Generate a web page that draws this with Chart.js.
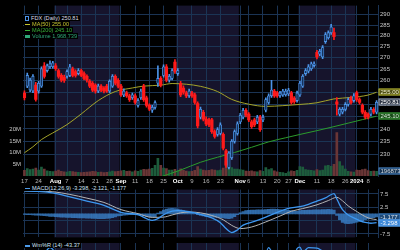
<!DOCTYPE html>
<html>
<head>
<meta charset="utf-8">
<title>FDX daily</title>
<script src="https://cdn.jsdelivr.net/npm/chart.js@4.4.1/dist/chart.umd.min.js"></script>
<style>
  html, body { margin: 0; padding: 0; background: #000; }
  #wrap { position: relative; width: 400px; height: 250px; overflow: hidden; background: #000; }
  #wrap canvas { position: absolute; left: 0; }
  .leg { position: absolute; left: 24px; height: 6px; line-height: 6px; padding: 0 1px; background: #000;
         font: 5.6px "Liberation Sans", Arial, sans-serif; white-space: nowrap; }
  .ico { display: inline-block; vertical-align: middle; margin-right: 2px; }
</style>
</head>
<body>
<div id="wrap">
  <canvas id="price" width="400" height="185" style="top:0"></canvas>
  <canvas id="macd" width="400" height="59" style="top:184px"></canvas>
  <canvas id="wr" width="400" height="57" style="top:243px"></canvas>
  <div class="leg" style="top:15px;color:#d9dce6"><span class="ico" style="width:2px;height:3px;border:1px solid #4d94e8"></span><span id="lg1"></span></div>
  <div class="leg" style="top:21px;color:#c4c430"><span class="ico" style="width:5px;height:1px;background:#c4c430"></span><span id="lg2"></span></div>
  <div class="leg" style="top:27px;color:#38b038"><span class="ico" style="width:5px;height:1px;background:#38b038"></span><span id="lg3"></span></div>
  <div class="leg" style="top:33px;color:#2fa878"><span class="ico" style="width:5px;height:3px;background:#2fa878"></span><span id="lg4"></span></div>
  <div class="leg" style="top:185px;color:#d0e4f8"><span class="ico" style="width:5px;height:1px;background:#4d9ae8"></span><span id="lg5"></span></div>
  <div class="leg" style="top:242px;color:#d0e4f8"><span class="ico" style="width:5px;height:2px;background:#4d9ae8"></span><span id="lg6"></span></div>
</div>
<script>
// trading days shown on the chart
const dates = [
  'Jul 17','Jul 18','Jul 19','Jul 20','Jul 21','Jul 24','Jul 25','Jul 26','Jul 27','Jul 28','Jul 31',
  'Aug 1','Aug 2','Aug 3','Aug 4','Aug 7','Aug 8','Aug 9','Aug 10','Aug 11','Aug 14','Aug 15','Aug 16','Aug 17','Aug 18','Aug 21','Aug 22','Aug 23','Aug 24','Aug 25','Aug 28','Aug 29','Aug 30','Aug 31',
  'Sep 1','Sep 5','Sep 6','Sep 7','Sep 8','Sep 11','Sep 12','Sep 13','Sep 14','Sep 15','Sep 18','Sep 19','Sep 20','Sep 21','Sep 22','Sep 25','Sep 26','Sep 27','Sep 28','Sep 29',
  'Oct 2','Oct 3','Oct 4','Oct 5','Oct 6','Oct 9','Oct 10','Oct 11','Oct 12','Oct 13','Oct 16','Oct 17','Oct 18','Oct 19','Oct 20','Oct 23','Oct 24','Oct 25','Oct 26','Oct 27','Oct 30','Oct 31',
  'Nov 1','Nov 2','Nov 3','Nov 6','Nov 7','Nov 8','Nov 9','Nov 10','Nov 13','Nov 14','Nov 15','Nov 16','Nov 17','Nov 20','Nov 21','Nov 22','Nov 24','Nov 27','Nov 28','Nov 29','Nov 30',
  'Dec 1','Dec 4','Dec 5','Dec 6','Dec 7','Dec 8','Dec 11','Dec 12','Dec 13','Dec 14','Dec 15','Dec 18','Dec 19','Dec 20','Dec 21','Dec 22','Dec 26','Dec 27','Dec 28','Dec 29',
  'Jan 2','Jan 3','Jan 4','Jan 5','Jan 8','Jan 9','Jan 10','Jan 11'
];

const opens = [
  254.5,257.6,256.0,255.5,258.0,255.5,257.6,266.4,264.3,266.0,
  266.0,266.4,264.3,262.2,261.5,261.8,262.2,265.1,263.9,263.0,
  264.3,263.0,261.8,259.7,258.8,258.0,255.5,257.6,256.8,257.6,
  255.5,257.6,261.8,260.1,257.6,253.9,254.7,253.5,252.7,253.5,
  249.5,252.7,257.6,252.7,249.5,247.5,248.7,258.8,260.9,262.2,
  266.0,260.1,260.9,268.1,263.0,258.8,256.8,254.7,253.5,254.7,
  253.9,250.3,244.7,246.7,243.9,243.6,243.6,238.9,237.8,238.2,
  237.8,231.4,225.2,228.8,235.1,238.2,242.8,244.7,247.5,245.9,
  242.8,243.6,242.8,244.7,243.6,247.5,250.7,253.5,255.5,254.7,
  253.5,253.9,254.0,254.3,254.7,252.5,251.5,253.9,257.6,263.0,
  264.0,265.1,266.5,272.4,271.6,270.3,277.3,279.1,281.4,281.4,
  251.0,245.9,246.7,247.9,249.9,252.7,251.5,254.7,251.9,249.5,
  246.7,245.9,245.9,247.9,246.7
];
const highs = [
  255.6,263.2,261.0,262.6,259.2,259.6,266.0,267.8,267.2,268.6,
  268.4,267.4,265.0,263.0,262.3,264.6,267.0,265.8,264.6,265.2,
  265.0,263.8,262.5,260.4,259.5,258.6,258.5,258.3,257.4,258.4,
  260.3,262.6,262.4,260.8,258.4,256.4,255.5,254.2,254.6,254.3,
  252.3,256.3,258.4,253.4,250.2,249.5,251.4,266.4,261.7,266.8,
  266.9,262.7,265.1,269.2,265.2,259.6,257.7,255.5,256.3,255.4,
  254.6,251.0,248.8,247.5,244.8,244.3,244.2,239.6,240.5,242.4,
  238.4,232.0,231.2,235.8,239.6,242.8,246.3,248.3,248.2,246.6,
  243.5,244.3,245.4,245.4,245.5,252.7,254.3,260.1,256.2,255.4,
  255.4,256.2,256.3,256.7,255.4,253.2,255.5,259.6,262.6,265.2,
  266.9,268.1,268.2,273.3,273.8,275.5,281.4,282.3,285.3,283.5,
  252.8,248.6,248.7,250.7,252.7,253.4,254.4,255.5,252.6,250.2,
  247.4,246.5,248.7,248.6,251.5
];
const lows = [
  251.8,256.9,255.2,254.8,251.3,254.6,257.0,261.0,263.6,265.2,
  265.4,264.4,261.0,259.4,259.2,261.0,261.6,261.5,261.4,262.4,
  261.6,260.2,259.3,256.9,255.2,254.6,254.8,255.2,254.7,254.9,
  254.8,257.0,258.1,256.8,253.2,253.1,252.8,251.2,252.0,250.0,
  248.8,252.0,251.2,248.8,247.3,246.6,248.0,257.5,257.2,261.4,
  259.4,259.3,260.2,263.1,262.2,253.1,254.2,252.7,252.8,252.8,
  250.0,240.4,244.0,243.2,241.3,240.9,238.2,236.3,237.1,237.6,
  231.8,225.2,224.6,228.2,234.4,237.5,242.1,244.0,244.8,242.9,
  240.2,240.9,242.1,239.0,242.9,246.8,250.0,252.8,252.8,252.8,
  252.8,253.2,253.3,253.6,250.0,250.3,250.8,253.2,257.0,262.2,
  263.3,264.4,265.8,269.5,270.8,269.6,276.5,278.4,280.6,278.2,
  245.5,245.2,246.0,247.2,249.2,250.0,250.8,251.2,250.0,246.0,
  244.0,244.0,245.2,246.0,246.0
];
const closes = [
  252.7,262.2,260.1,261.8,252.0,258.8,265.1,261.8,266.4,267.3,
  267.7,265.1,261.8,260.1,260.0,263.9,266.0,262.2,262.2,264.3,
  262.2,260.9,260.1,257.6,255.9,255.5,257.6,255.9,255.5,255.5,
  259.7,261.8,258.8,257.6,253.9,255.5,253.5,251.9,253.9,250.7,
  251.5,255.5,251.9,249.5,248.0,248.7,250.7,260.9,258.0,266.0,
  260.1,261.8,264.3,263.9,264.3,253.9,255.0,253.5,255.5,253.5,
  250.7,241.2,247.9,243.9,242.0,241.6,238.9,237.0,239.7,241.6,
  232.5,226.0,230.6,235.1,238.9,242.0,245.5,247.5,245.5,243.6,
  240.9,241.6,244.7,239.7,244.7,251.9,253.5,255.9,253.5,253.5,
  254.7,255.5,255.5,255.9,250.7,251.0,254.7,258.8,261.8,264.3,
  266.0,267.3,267.3,270.3,272.9,274.6,280.5,281.4,284.1,279.6,
  250.0,247.9,247.9,249.9,251.9,250.7,253.5,251.9,250.7,246.7,
  244.7,244.7,247.9,246.7,250.81
];
// volume, millions of shares
const volumes = [
  2.4,3.2,2.8,3.0,3.4,2.6,3.8,3.0,2.2,2.0,1.9,
  2.1,2.5,2.0,1.8,1.7,2.0,1.9,1.7,1.6,1.5,
  1.6,1.7,1.8,2.0,1.9,1.6,1.7,1.5,1.6,1.8,2.1,1.9,2.0,
  2.2,2.4,2.0,2.1,1.8,2.2,2.0,2.6,2.9,2.8,3.0,3.3,4.6,
  7.6,4.6,3.4,3.2,2.6,2.5,2.9,2.2,
  3.1,2.4,2.1,1.9,2.0,2.4,4.0,3.0,2.6,2.3,2.4,2.8,2.6,2.3,2.5,3.4,6.4,4.4,3.6,3.0,3.0,
  2.8,2.5,2.1,2.0,2.2,1.9,1.8,2.3,2.0,3.6,2.8,3.2,2.2,1.8,1.6,1.5,1.1,1.8,2.2,2.0,2.4,
  4.0,3.8,2.8,2.6,2.4,2.2,2.8,2.3,2.6,4.4,4.6,4.2,5.0,
  18.7,6.2,4.4,3.0,2.0,1.8,1.7,2.6,2.4,2.8,3.0,2.3,2.0,2.1,1.968739
];

// moving averages, read at a few days
const ma50Idx = [0,3,6,10,15,20,26,32,38,42,48,52,57,62,68,73,79,85,91,97,103,109,115,121,124];
const ma50 = [230.7,233.0,235.8,238.4,241.7,246.0,251.5,255.3,256.8,257.6,258.0,258.7,258.4,257.5,255.3,252.0,250.0,249.1,249.4,249.9,250.6,252.2,252.8,253.8,255.0];
const ma200Idx = [48,55,62,68,74,80,86,92,97,103,109,114,119,124];
const ma200 = [221.7,224.2,227.1,229.0,230.8,232.8,234.9,236.5,237.8,239.3,240.9,242.3,243.7,245.1];

// MACD(12,26,9)
const macdIdx = [0,5,10,16,22,28,34,40,45,47,49,52,54,58,62,66,69,71,73,75,77,81,85,89,93,97,100,103,106,109,110,111,112,114,116,118,120,122,124];
const macd = [8.6,8.4,7.9,6.4,4.8,3.2,0.6,-0.3,-2.4,-1.8,-0.3,1.0,1.2,0.8,-0.2,-1.5,-3.3,-5.5,-7.0,-6.0,-4.2,-2.8,-1.2,0.6,2.1,2.7,3.6,4.8,6.0,7.6,5.6,3.4,1.6,-0.4,-1.5,-2.5,-3.2,-3.5,-3.298];
const signalIdx = [0,5,10,16,22,28,34,40,45,49,52,55,58,62,66,70,73,76,80,85,90,94,98,103,107,110,112,114,117,120,122,124];
const signal = [8.6,8.5,8.3,7.3,5.9,4.3,1.6,0.1,-1.3,-1.2,-0.4,0.4,0.7,0.4,-0.6,-2.2,-4.3,-5.5,-4.9,-3.0,-0.8,1.0,2.0,3.4,5.0,6.2,4.9,3.0,0.9,-1.0,-1.8,-2.121];
const hist = [
  -0.2,-0.3,-0.3,-0.4,-0.5,-0.5,-0.6,-0.7,-0.8,-0.9,
  -0.9,-1.0,-1.1,-1.2,-1.2,-1.3,-1.3,-1.4,-1.4,-1.5,
  -1.5,-1.5,-1.6,-1.6,-1.7,-1.7,-1.8,-1.8,-1.8,-1.7,
  -1.6,-1.4,-1.1,-0.8,-0.7,-0.5,-0.4,-0.3,-0.3,-0.3,
  -0.4,-0.5,-0.7,-0.9,-1.1,-1.2,-1.0,0.3,0.9,1.4,
  1.8,2.0,2.1,2.0,1.8,1.5,1.2,0.9,0.6,0.3,
  0.0,-0.3,-0.6,-0.8,-0.9,-1.0,-1.1,-1.2,-1.3,-1.4,
  -1.5,-1.7,-1.8,-1.6,-1.0,-0.3,0.4,0.9,1.2,1.3,
  1.4,1.4,1.5,1.5,1.5,1.6,1.7,1.8,1.8,1.7,
  1.6,1.5,1.4,1.3,1.2,1.1,1.1,1.2,1.3,1.3,
  1.4,1.4,1.5,1.5,1.5,1.6,1.6,1.7,1.6,1.4,
  -0.6,-2.2,-3.2,-3.6,-3.7,-3.6,-3.4,-3.1,-2.8,-2.5,
  -2.2,-1.9,-1.6,-1.4,-1.177
];

// Williams %R(14), only the top of the panel is in the picture
const wrIdx = [0,3,6,9,11,14,16,20,25,29,31,33,38,43,46,47,49,53,56,60,63,67,71,74,77,80,83,86,88,92,94,96,97,98,100,103,106,108,110,113,116,119,121,124];
const wr = [-30,-15,-20,-4,-14,-40,-25,-35,-80,-75,-30,-45,-75,-85,-70,-15,-12,-20,-60,-75,-90,-85,-95,-40,-15,-50,-55,-4,-20,-15,-45,-6,-3,-13,-4,-5,-12,-10,-90,-75,-65,-90,-85,-43.37];

// axis ticks
const tickDates = ['Jul 17','Jul 24','Aug 1','Aug 7','Aug 14','Aug 21','Aug 28','Sep 1','Sep 11','Sep 18','Sep 25','Oct 2','Oct 9','Oct 16','Oct 23','Nov 1','Nov 6','Nov 13','Nov 20','Nov 27','Dec 1','Dec 11','Dec 18','Dec 26','Jan 2','Jan 8'];
const tickText = ['17','24','Aug','7','14','21','28','Sep','11','18','25','Oct','9','16','23','Nov','6','13','20','27','Dec','11','18','26','2024','8'];
const priceTicks = [230,235,240,245,250,255,260,265,270,275,280,285,290];
const volTicks = [5,10,15,20];
const macdTicks = [-7.5,-5,-2.5,0,2.5,5,7.5];

Chart.defaults.font.family = '"Liberation Sans", Arial, sans-serif';
Chart.defaults.font.size = 6;

const gridC = '#1b3454';
const last = a => a[a.length - 1];
const tickIdx = tickDates.map(d => dates.indexOf(d));
const isMonth = i => !/^\d{1,2}$/.test(tickText[i]);
const pts = (idx, vals) => idx.map((d, i) => ({ x: dates[d], y: vals[i] }));

// first trading day of each month, for the alternating background
const monthStarts = [];
dates.forEach((d, i) => { if (i === 0 || d.slice(0, 3) !== dates[i - 1].slice(0, 3)) monthStarts.push(i); });

const up = closes.map((c, i) => c >= opens[i]);
const lineCol = up.map(u => u ? '#4d94e8' : '#ff1a1a');
const bodyCol = up.map(u => u ? '#15325c' : '#ff1a1a');
const volCol = up.map(u => u ? '#1d5c3c' : '#6a3636');

document.getElementById('lg1').textContent = 'FDX (Daily) ' + last(closes).toFixed(2);
document.getElementById('lg2').textContent = 'MA(50) ' + last(ma50).toFixed(2);
document.getElementById('lg3').textContent = 'MA(200) ' + last(ma200).toFixed(2);
document.getElementById('lg4').textContent = 'Volume ' + Math.round(last(volumes) * 1e6).toLocaleString('en-US');
document.getElementById('lg5').textContent = 'MACD(12,26,9) ' + last(macd).toFixed(3) + ', ' + last(signal).toFixed(3) + ', ' + last(hist).toFixed(3);
document.getElementById('lg6').textContent = 'Wm%R (14) ' + last(wr).toFixed(2);

const shade = {
  id: 'shade',
  beforeDraw(chart) {
    const { ctx, chartArea: a, scales: { x } } = chart;
    const w = x.getPixelForValue(1) - x.getPixelForValue(0);
    ctx.save();
    ctx.fillStyle = '#000';
    ctx.fillRect(a.left, a.top, a.right - a.left, a.bottom - a.top);
    ctx.fillStyle = '#16142c';
    for (let m = 1; m < monthStarts.length; m += 2) {
      const s = x.getPixelForValue(monthStarts[m]) - w / 2;
      const e = m + 1 < monthStarts.length ? x.getPixelForValue(monthStarts[m + 1]) - w / 2 : a.right;
      ctx.fillRect(s, a.top, e - s, a.bottom - a.top);
    }
    ctx.restore();
  }
};

function tag(ctx, x, y, text, fill, line, color) {
  y = Math.round(y);
  ctx.fillStyle = fill;
  ctx.fillRect(x, y - 3.5, 22, 7);
  ctx.strokeStyle = line;
  ctx.lineWidth = 1;
  ctx.strokeRect(x + 0.5, y - 3, 21, 6);
  ctx.fillStyle = color;
  ctx.font = '6px "Liberation Sans", Arial, sans-serif';
  ctx.textBaseline = 'middle';
  ctx.textAlign = 'left';
  ctx.fillText(text, x + 2, y + 0.5);
}

const priceTags = {
  id: 'priceTags',
  afterDraw(chart) {
    const { ctx, chartArea: a, scales: { y, yv } } = chart;
    const x0 = a.right + 0.5;
    ctx.save();
    tag(ctx, x0, yv.getPixelForValue(last(volumes)), String(Math.round(last(volumes) * 1e6)), '#173453', '#4a86c8', '#d0d8e0');
    tag(ctx, x0, y.getPixelForValue(last(ma50)), last(ma50).toFixed(2), '#4e4e14', '#b4b430', '#f0f0c8');
    tag(ctx, x0, y.getPixelForValue(last(ma200)), last(ma200).toFixed(2), '#174a17', '#3ca03c', '#d8f0d8');
    tag(ctx, x0, y.getPixelForValue(last(closes)), last(closes).toFixed(2), '#2c3444', '#9aa6ba', '#ffffff');
    ctx.restore();
  }
};

const macdTags = {
  id: 'macdTags',
  afterDraw(chart) {
    const { ctx, chartArea: a, scales: { y } } = chart;
    const x0 = a.right + 0.5;
    ctx.save();
    tag(ctx, x0, y.getPixelForValue(last(signal)), last(signal).toFixed(3), '#6e6e6e', '#a0a0a0', '#ffffff');
    tag(ctx, x0, y.getPixelForValue(last(hist)), last(hist).toFixed(3), '#1f4a78', '#3a80c8', '#e0e8f0');
    tag(ctx, x0, y.getPixelForValue(last(macd)), last(macd).toFixed(3), '#3a86d6', '#5aa0e8', '#ffffff');
    ctx.restore();
  }
};

function xScale(showLabels) {
  return {
    type: 'category',
    offset: true,
    grid: { offset: false, color: gridC, drawTicks: false },
    border: { display: false },
    afterBuildTicks: s => { s.ticks = tickIdx.map(v => ({ value: v })); },
    ticks: {
      display: showLabels, autoSkip: false, maxRotation: 0, padding: 1.5,
      callback: (v, i) => tickText[i],
      color: c => isMonth(c.index) ? '#ffffff' : '#b8b8b8',
      font: c => ({ size: 6, weight: isMonth(c.index) ? 'bold' : 'normal' })
    },
    afterFit: s => { s.height = showLabels ? 9 : 0; }
  };
}

const common = {
  responsive: false,
  animation: false,
  events: [],
  plugins: { legend: { display: false }, tooltip: { enabled: false } }
};

new Chart(document.getElementById('price'), {
  type: 'bar',
  data: {
    labels: dates,
    datasets: [
      { type: 'bar', yAxisID: 'yv', data: volumes, backgroundColor: volCol, barThickness: 2, grouped: false, order: 5 },
      { type: 'line', yAxisID: 'y', data: pts(ma200Idx, ma200), borderColor: '#2c9c2c', borderWidth: 1, pointRadius: 0, cubicInterpolationMode: 'monotone', order: 4 },
      { type: 'line', yAxisID: 'y', data: pts(ma50Idx, ma50), borderColor: '#a4a42a', borderWidth: 1, pointRadius: 0, cubicInterpolationMode: 'monotone', order: 3 },
      { type: 'bar', yAxisID: 'y', data: lows.map((l, i) => [l, highs[i]]), backgroundColor: lineCol, barThickness: 1, grouped: false, order: 2 },
      { type: 'bar', yAxisID: 'y', data: opens.map((o, i) => [o, closes[i]]), backgroundColor: bodyCol, borderColor: lineCol,
        borderWidth: up.map(u => u ? 0.8 : 0), borderSkipped: false, barThickness: 2.6, minBarLength: 1, grouped: false, order: 1 }
    ]
  },
  options: {
    ...common,
    layout: { padding: 0 },
    scales: {
      x: xScale(true),
      y: {
        type: 'logarithmic', position: 'right', min: 222.0, max: 294.3, bounds: 'data',
        grid: { color: gridC, drawTicks: false }, border: { color: gridC },
        afterBuildTicks: s => { s.ticks = priceTicks.map(v => ({ value: v })); },
        ticks: { callback: v => String(v), color: '#c8c8c8', padding: 2 },
        afterFit: s => { s.width = 22; }
      },
      yv: {
        type: 'linear', position: 'left', min: 0, max: 73.3, bounds: 'data',
        grid: { display: false, drawTicks: false }, border: { display: false },
        afterBuildTicks: s => { s.ticks = volTicks.map(v => ({ value: v })); },
        ticks: { callback: v => v + 'M', color: '#c8c8c8', padding: 2 },
        afterFit: s => { s.width = 23; }
      }
    }
  },
  plugins: [shade, priceTags]
});

new Chart(document.getElementById('macd'), {
  type: 'bar',
  data: {
    labels: dates,
    datasets: [
      { type: 'line', data: pts(signalIdx, signal), borderColor: '#b4b4b4', borderWidth: 1, pointRadius: 0, cubicInterpolationMode: 'monotone', order: 2 },
      { type: 'line', data: pts(macdIdx, macd), borderColor: '#3d97f0', borderWidth: 1.3, pointRadius: 0, cubicInterpolationMode: 'monotone', order: 1 },
      { type: 'bar', data: hist, backgroundColor: 'rgba(58,128,200,0.8)', barThickness: 2.6, grouped: false, order: 3 }
    ]
  },
  options: {
    ...common,
    layout: { padding: { left: 23 } },
    scales: {
      x: xScale(false),
      y: {
        type: 'linear', position: 'right', min: -8.8, max: 9.1, bounds: 'data',
        grid: { color: gridC, drawTicks: false }, border: { color: gridC },
        afterBuildTicks: s => { s.ticks = macdTicks.map(v => ({ value: v })); },
        ticks: { callback: v => v.toFixed(1), color: '#c8c8c8', padding: 2 },
        afterFit: s => { s.width = 22; }
      }
    }
  },
  plugins: [shade, macdTags]
});

new Chart(document.getElementById('wr'), {
  type: 'line',
  data: {
    labels: dates,
    datasets: [
      { data: pts(wrIdx, wr), borderColor: '#3d97f0', borderWidth: 1.3, pointRadius: 0, cubicInterpolationMode: 'monotone' }
    ]
  },
  options: {
    ...common,
    layout: { padding: { left: 23, right: 22 } },
    scales: {
      x: xScale(false),
      y: { type: 'linear', display: false, min: -105, max: 5 }
    }
  },
  plugins: [shade]
});
</script>
</body>
</html>
